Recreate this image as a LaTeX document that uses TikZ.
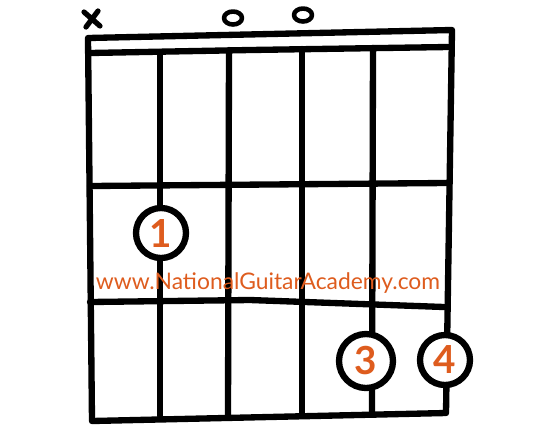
\documentclass[tikz,border=0pt]{standalone}
\usepackage{fontspec}
\setmainfont{Lato}
\usepackage{tikz}
\usetikzlibrary{positioning, calc}
\usetikzlibrary{shapes.geometric}
\definecolor{nga}{RGB}{222,92,30}

\begin{document}
\begin{tikzpicture} [x=0.02cm, y=-0.02cm, line width=3.6pt, line cap=round, line join=round,
	finger/.style={circle, draw, fill=white, minimum size=1.0cm, inner sep=0pt, text=nga, font=\fontsize{22}{22}\selectfont\bfseries},
	openmark/.style={ellipse, draw, line width=2.6pt, minimum width=0.36cm, minimum height=0.26cm, inner sep=0pt}]
	\useasboundingbox (0,0) rectangle (555,441);
	% nut and frame
	\coordinate (tl) at (88,38);
	\coordinate (tr) at (452,30);
	\coordinate (bl) at (92,421);
	\coordinate (br) at (446,413);
	\draw (tl) -- (tr) -- (br) -- (bl) -- cycle;
	\draw (90,53) -- (250,50) -- (448,47);
	\draw (90,186) -- (446,183);
	\draw (90,302) -- (250,300) -- (444,307);
	% strings
	\draw (160,52) -- (160,416);
	\draw (229,50) -- (228,416);
	\draw (302,49) -- (302,415);
	\draw (373,48) -- (372,414);
	% markers above the nut
	\draw [line width=3pt] (84,12) -- (100,26) (98,11) -- (86,27);
	\node [openmark] (o1) at (233,18) {};
	\node [openmark] (o2) at (303,15) {};
	% fingers
	\node [finger] (f1) at (161,233) {1};
	\node [finger, minimum width=1.08cm] (f3) at (366,361) {3};
	\node [finger] (f4) at (445,360) {4};
	% watermark
	\node [text=nga, font=\fontsize{13}{13}\selectfont] (url) at (268,283) {www.NationalGuitarAcademy.com};
\end{tikzpicture}
\end{document}
